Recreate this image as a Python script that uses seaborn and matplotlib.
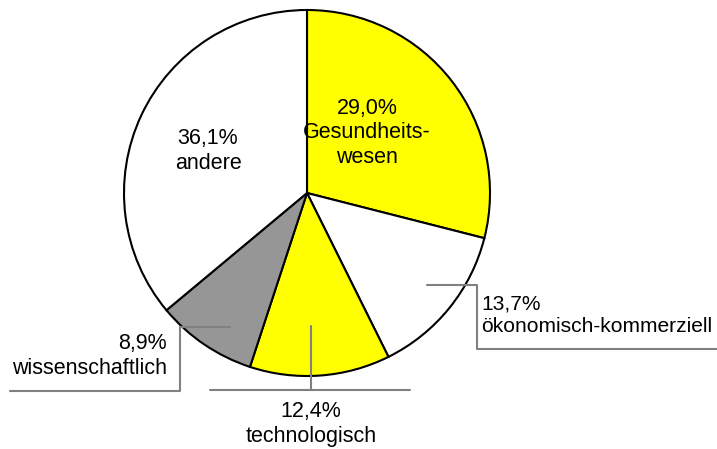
import matplotlib
matplotlib.use("Agg")
import matplotlib.pyplot as plt
import seaborn as sns

# --- data ---
categories = ["Gesundheits-\nwesen", "ökonomisch-kommerziell", "technologisch",
              "wissenschaftlich", "andere"]
shares = [29.0, 13.7, 12.4, 8.9, 36.1]
slice_colors = ["#FFFF00", "#FFFFFF", "#FFFF00", "#969696", "#FFFFFF"]

sns.set_style("white")
plt.rcParams["font.family"] = ["Liberation Sans", "DejaVu Sans"]
plt.rcParams["text.color"] = "black"

W, H = 717, 449
fig = plt.figure(figsize=(W / 100, H / 100), dpi=100)
ax = fig.add_axes([0, 0, 1, 1])

cx, cy, r = 307, H - 193, 183
ax.pie(shares, colors=slice_colors, startangle=90, counterclock=False,
       center=(cx, cy), radius=r, frame=True,
       wedgeprops=dict(edgecolor="black", linewidth=1.5))
ax.set_xlim(0, W)
ax.set_ylim(0, H)
ax.set_aspect("equal")
ax.axis("off")


def lbl(i):
    return f"{shares[i]:.1f}".replace(".", ",") + "%\n" + categories[i]


fs = 15.5
ls = 1.2
gray = "#808080"

# inside labels
ax.text(367, H - 133, lbl(0), ha="center", va="center", fontsize=fs, linespacing=ls)
ax.text(208, H - 151, lbl(4), ha="center", va="center", fontsize=fs, linespacing=ls)

# ökonomisch-kommerziell
ax.plot([427, 477, 477, W], [H - 285, H - 285, H - 349, H - 349], color=gray, lw=1.5)
ax.text(481, H - 315, lbl(1), ha="left", va="center", fontsize=15.1, linespacing=1.23)

# technologisch
ax.plot([311, 311], [H - 326, H - 390], color=gray, lw=1.5)
ax.plot([210, 410], [H - 390, H - 390], color=gray, lw=1.5)
ax.text(311, H - 424, lbl(2), ha="center", va="center", fontsize=fs, linespacing=ls)

# wissenschaftlich
ax.plot([230, 180, 180, 10], [H - 327, H - 327, H - 391, H - 391], color=gray, lw=1.5)
ax.text(167, H - 356, lbl(3), ha="right", va="center", fontsize=fs, linespacing=ls,
        multialignment="right")

fig.savefig("out.png", dpi=100, facecolor="white")
